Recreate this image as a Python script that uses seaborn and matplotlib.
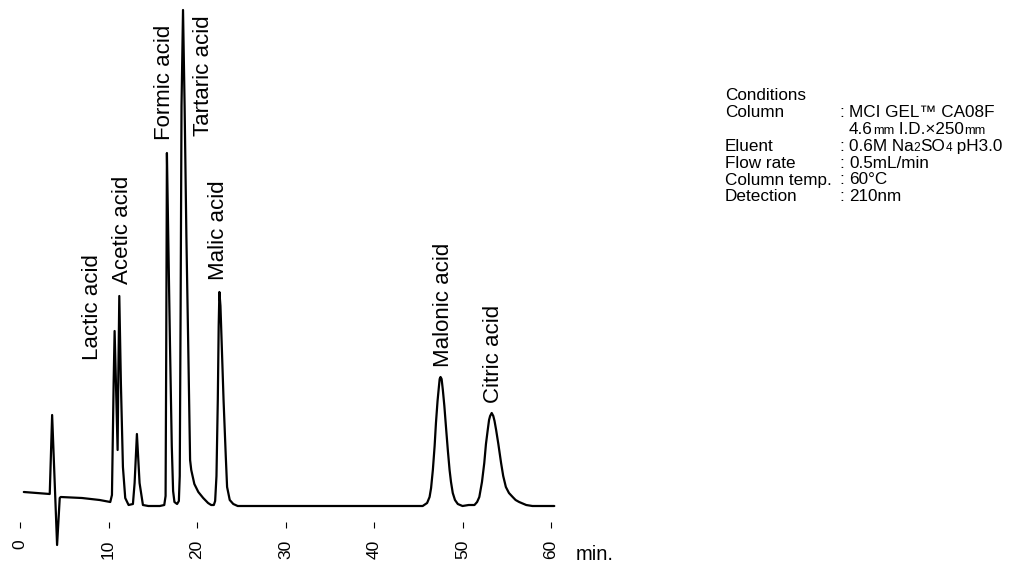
import numpy as np
import pandas as pd
import matplotlib
matplotlib.use('Agg')
import matplotlib.pyplot as plt
import seaborn as sns

# Chromatogram trace: retention time (min) and detector response (arb. units)
time = [0.43, 3.36, 3.63, 4.19, 4.49, 4.6, 7.0, 9.0, 10.2,
        10.39, 10.58, 10.69, 10.84, 11.03, 11.1, 11.22, 11.4, 11.63, 11.89,
        12.27, 12.76, 12.95, 13.21, 13.51, 13.89,
        14.5, 15.8, 16.3, 16.45, 16.52, 16.6, 16.75, 16.95, 17.15, 17.3, 17.45,
        17.75, 17.95, 18.05, 18.15, 18.25, 18.42, 18.6, 18.8, 19.0, 19.22,
        19.35, 19.7, 20.15, 20.7, 21.25, 21.6, 21.9, 22.05, 22.2, 22.35, 22.45, 22.53,
        22.65, 22.8, 23.0, 23.25, 23.4, 23.7, 24.1, 24.6,
        45.5, 46.0, 46.28, 46.45, 46.65, 46.85, 47.0, 47.18, 47.33, 47.42, 47.52,
        47.64, 47.78, 47.95, 48.16, 48.35, 48.54, 48.7, 48.9, 49.15, 49.47, 50.0, 50.7,
        51.35, 51.65, 51.9, 52.2, 52.46, 52.65, 52.85, 53.0, 53.12, 53.3, 53.48,
        53.62, 53.8, 54.05, 54.36, 54.6, 54.9, 55.25, 55.67, 56.0, 56.4, 57.2, 57.9, 60.37]
signal = [14, 12, 91, -39, 8, 9, 8, 6, 4,
          11, 123, 175, 123, 56, 123, 210, 123, 39, 8,
          1, 2, 23, 72, 23, 1,
          0, 0, 1, 10, 150, 353, 270, 160, 60, 15, 4,
          2, 5, 30, 200, 400, 496, 400, 270, 165, 46,
          36, 22, 14, 8, 3, 1, 1, 5, 30, 106, 180, 214,
          200, 160, 106, 50, 19, 6, 2, 0,
          0, 3, 9, 18, 36, 60, 83, 105, 119, 127, 129,
          127, 116, 100, 76, 55, 36, 24, 13, 6, 2, 0, 1,
          1, 4, 9, 24, 43, 62, 76, 86, 90, 93, 90,
          85, 76, 62, 43, 30, 19, 13, 9, 6, 4, 1, 0, 0]

peak_names = ['Lactic acid', 'Acetic acid', 'Formic acid', 'Tartaric acid',
              'Malic acid', 'Malonic acid', 'Citric acid']
peak_times = [10.69, 11.22, 16.6, 18.42, 22.53, 47.52, 53.3]

x_ticks = [0, 10, 20, 30, 40, 50, 60]

cond_title = 'Conditions'
cond_labels = ['Column', '', 'Eluent', 'Flow rate', 'Column temp.', 'Detection']
# (text, relative size) runs for each value line
cond_values = [
    [('MCI GEL™ CA08F', 1)],
    [('4.6', 1), ('mm', 0.75), (' I.D.×250', 1), ('mm', 0.75)],
    [('0.6M Na', 1), ('2', 0.7), ('SO', 1), ('4', 0.7), (' pH3.0', 1)],
    [('0.5mL/min', 1)],
    [('60°C', 1)],
    [('210nm', 1)],
]

df = pd.DataFrame({'time': time, 'signal': signal})

sns.set_style('white')
plt.rcParams['font.family'] = ['Liberation Sans', 'Noto Sans CJK JP', 'DejaVu Sans']
plt.rcParams['text.color'] = 'black'
plt.rcParams['xtick.color'] = 'black'

W, H = 1025, 562
fig = plt.figure(figsize=(W / 100, H / 100), dpi=100)
ax = fig.add_axes([20 / W, (H - 506) / H, 531 / W, 496 / H])

sns.lineplot(data=df, x='time', y='signal', ax=ax, sort=False, estimator=None,
             color='black', linewidth=1.6)
line = ax.lines[0]
line.set_clip_on(False)
line.set_solid_joinstyle('round')

for side in ['top', 'right', 'left', 'bottom']:
    ax.spines[side].set_visible(False)
ax.spines['bottom'].set_position(('outward', 11.5))

ax.set_xlim(0, 60)
ax.set_ylim(0, 496)
ax.set_xticks(x_ticks)
ax.set_xticklabels([str(t) for t in x_ticks])
ax.set_yticks([])
ax.set_xlabel('')
ax.set_ylabel('')
ax.tick_params(axis='x', bottom=True, direction='out', length=4.3, width=0.8,
               color='black', pad=8.5, labelcolor='black', labelsize=12.5,
               labelrotation=90)
ax.patch.set_alpha(0)

# peak labels (offsets in points from the peak apex)
label_offsets = [(-16, -21), (2, 9), (-2, 9), (15, -91), (-1, 9), (2, 7), (1, 7)]
t_arr = np.array(time)
s_arr = np.array(signal)
for name, rt, (dx, dy) in zip(peak_names, peak_times, label_offsets):
    h = s_arr[np.argmin(np.abs(t_arr - rt))]
    ax.annotate(name, xy=(rt, h), xytext=(dx, dy), textcoords='offset points',
                rotation=90, ha='center', va='bottom', fontsize=16,
                annotation_clip=False)

fig.text(576 / W, 1 - 560 / H, 'min.', fontsize=14.5, va='baseline', ha='left')

# conditions block
renderer = fig.canvas.get_renderer()
cond_size = 12.3


def draw_runs(x_px, y_px, runs, size):
    for s, scale in runs:
        t = fig.text(x_px / W, 1 - y_px / H, s, fontsize=size * scale,
                     va='baseline', ha='left')
        x_px += t.get_window_extent(renderer).width


row_gap = 16.9
base_y = 100
fig.text(725 / W, 1 - base_y / H, cond_title, fontsize=cond_size, va='baseline')
for i, (lab, runs) in enumerate(zip(cond_labels, cond_values)):
    y = base_y + row_gap * (i + 1)
    if lab:
        fig.text(725 / W, 1 - y / H, lab, fontsize=cond_size, va='baseline')
        fig.text(842 / W, 1 - y / H, ':', fontsize=cond_size, va='baseline',
                 ha='center')
    draw_runs(849, y, runs, cond_size)

fig.savefig('out.png', dpi=100)
